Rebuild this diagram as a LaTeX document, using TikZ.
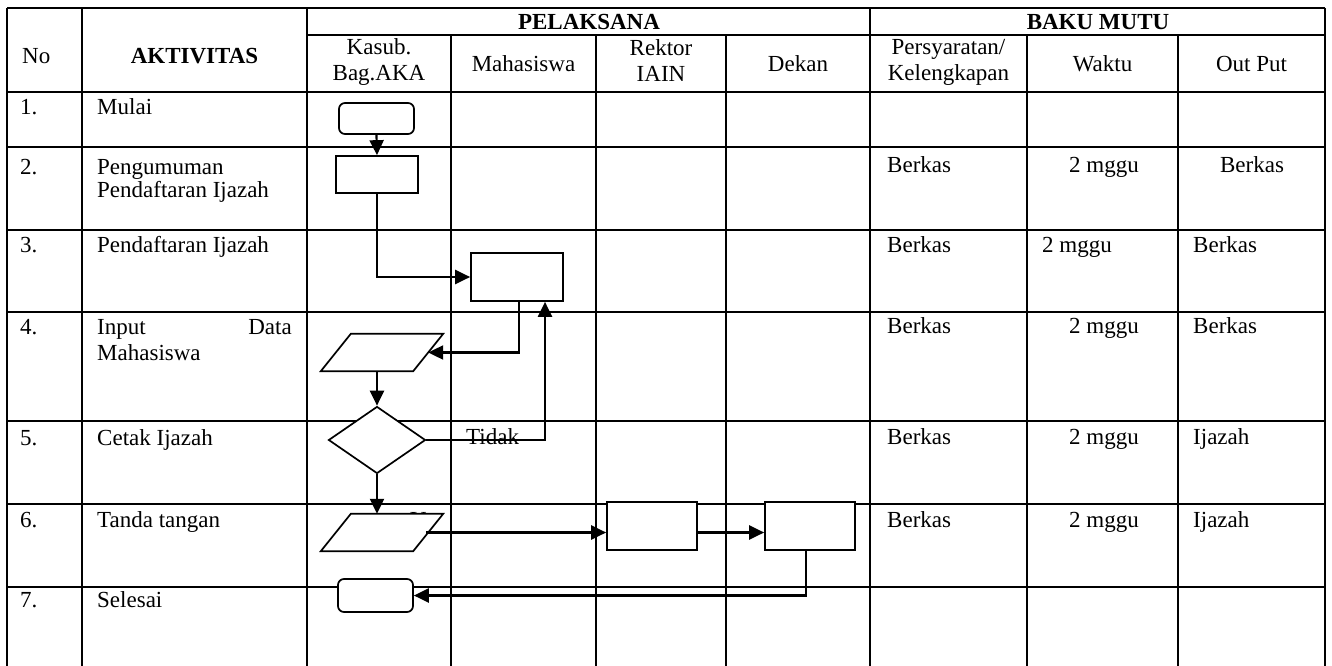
\documentclass[tikz,border=0pt]{standalone}
\usepackage{fontspec}
\setmainfont{Liberation Serif}
\usetikzlibrary{arrows.meta,shapes.geometric,calc}
\begin{document}
\begin{tikzpicture}[x=1pt,y=-1pt,
  grid/.style={line width=1.8pt},
  txt/.style={font=\fontsize{23}{27}\selectfont, inner sep=0pt, anchor=base west},
  rtxt/.style={font=\fontsize{23}{27}\selectfont, inner sep=0pt, anchor=base east},
  ctxt/.style={font=\fontsize{23}{27}\selectfont, inner sep=0pt, anchor=base},
  btxt/.style={font=\fontsize{23}{27}\selectfont\bfseries, inner sep=0pt, anchor=base},
  shp/.style={draw, line width=1.7pt, fill=white, inner sep=0pt},
  term/.style={shp, rectangle, rounded corners=6pt},
  proc/.style={shp, rectangle},
  parabox/.style={rectangle, inner sep=0pt, minimum width=92, minimum height=37},
  paraline/.style={draw, line width=1.7pt, fill=white},
  dec/.style={shp, diamond, minimum width=97, minimum height=67},
  arr/.style={line width=2.2pt, -{Triangle[length=15pt,width=14pt]}},
]
\useasboundingbox (0,0) rectangle (1332,666);
\fill[white] (0,0) rectangle (1332,666);

% ---- table grid ----
\draw[grid] (7,8) -- (1325,8);
\draw[grid] (307,35) -- (1325,35);
\foreach \yy in {92,147,230,312,421,504,587} \draw[grid] (7,\yy) -- (1325,\yy);
\foreach \xx in {7,82,307,870,1325} \draw[grid] (\xx,8) -- (\xx,666);
\foreach \xx in {451,596,726,1027,1178} \draw[grid] (\xx,35) -- (\xx,666);

% ---- header ----
\node[btxt] (hpel) at (589,30) {PELAKSANA};
\node[btxt] (hbaku) at (1098,30) {BAKU MUTU};
\node[txt] (hno) at (22,64) {No};
\node[btxt] (hakt) at (194.5,64) {AKTIVITAS};
\node[ctxt] (hkas1) at (379,55) {Kasub.};
\node[ctxt] (hkas2) at (379,81) {Bag.AKA};
\node[ctxt] (hmhs) at (523.5,72) {Mahasiswa};
\node[ctxt] (hrek1) at (661,56) {Rektor};
\node[ctxt] (hrek2) at (661,82) {IAIN};
\node[ctxt] (hdek) at (798,72) {Dekan};
\node[ctxt] (hper1) at (948.5,55) {Persyaratan/};
\node[ctxt] (hper2) at (948.5,81) {Kelengkapan};
\node[ctxt] (hwak) at (1102.5,72) {Waktu};
\node[ctxt] (hout) at (1251.5,72) {Out Put};

% ---- rows: left ----
\node[txt] (n1) at (20,115) {1.};
\node[txt] (a1) at (97,115) {Mulai};
\node[txt] (n2) at (20,174) {2.};
\node[txt] (a2a) at (97,174) {Pengumuman};
\node[txt] (a2b) at (97,197) {Pendaftaran Ijazah};
\node[txt] (n3) at (20,252) {3.};
\node[txt] (a3) at (97,252) {Pendaftaran Ijazah};
\node[txt] (n4) at (20,334) {4.};
\node[txt] (a4a) at (97,334) {Input};
\node[rtxt] (a4b) at (292,334) {Data};
\node[txt] (a4c) at (97,360) {Mahasiswa};
\node[txt] (n5) at (20,445) {5.};
\node[txt] (a5) at (97,445) {Cetak Ijazah};
\node[txt] (n6) at (20,527) {6.};
\node[txt] (a6) at (97,527) {Tanda tangan};
\node[txt] (n7) at (20,607) {7.};
\node[txt] (a7) at (97,607) {Selesai};

% ---- rows: right ----
\node[txt] (p2) at (887,172) {Berkas};
\node[ctxt] (w2) at (1104,172) {2 mggu};
\node[ctxt] (o2) at (1252,172) {Berkas};
\node[txt] (p3) at (887,252) {Berkas};
\node[txt] (w3) at (1042,252) {2 mggu};
\node[txt] (o3) at (1193,252) {Berkas};
\node[txt] (p4) at (887,333) {Berkas};
\node[ctxt] (w4) at (1104,333) {2 mggu};
\node[txt] (o4) at (1193,333) {Berkas};
\node[txt] (p5) at (887,444) {Berkas};
\node[ctxt] (w5) at (1104,444) {2 mggu};
\node[txt] (o5) at (1193,444) {Ijazah};
\node[txt] (p6) at (887,527) {Berkas};
\node[ctxt] (w6) at (1104,527) {2 mggu};
\node[txt] (o6) at (1193,527) {Ijazah};

% ---- flowchart ----
\node[term, minimum width=75, minimum height=31] (mulai) at (376.5,118.5) {};
\node[proc, minimum width=82, minimum height=37] (umum) at (377,174.5) {};
\node[proc, minimum width=92, minimum height=48] (daftar) at (517,277) {};
\node[parabox] (input) at (382,352.5) {};
\draw[paraline] ($(input.north west)+(15,0)$) -- ($(input.north east)+(15,0)$)
  -- ($(input.south east)+(-15,0)$) -- ($(input.south west)+(-15,0)$) -- cycle;
\node[dec] (cetak) at (377,440) {};
\node[txt] (ylbl) at (410,527) {Y};
\node[parabox] (ttd) at (382,532.5) {};
\draw[paraline] ($(ttd.north west)+(15,0)$) -- ($(ttd.north east)+(15,0)$)
  -- ($(ttd.south east)+(-15,0)$) -- ($(ttd.south west)+(-15,0)$) -- cycle;
\node[proc, minimum width=90, minimum height=48] (rektor) at (652,526) {};
\node[proc, minimum width=90, minimum height=48] (dekan) at (810,526) {};
\node[term, minimum width=75, minimum height=33] (selesai) at (375.5,595.5) {};
\node[txt] (tidak) at (466,444) {Tidak};

\draw[arr] (mulai.south) -- (umum.north);
\draw[arr] (umum.south) |- (daftar.west);
\draw[arr] ([xshift=2pt]daftar.south) |- (input.east);
\draw[arr] (input.south -| cetak.north) -- (cetak.north);
\draw[arr] (cetak.east) -| ([xshift=28pt]daftar.south);
\draw[arr] (cetak.south) -- (cetak.south |- ttd.north);
\draw[arr] ([xshift=-2pt]ttd.east) -- (ttd.east -| rektor.west);
\draw[arr] (rektor.east |- ttd.east) -- (dekan.west |- ttd.east);
\draw[arr] ([xshift=-4pt]dekan.south) |- (selesai.east);
\end{tikzpicture}
\end{document}
